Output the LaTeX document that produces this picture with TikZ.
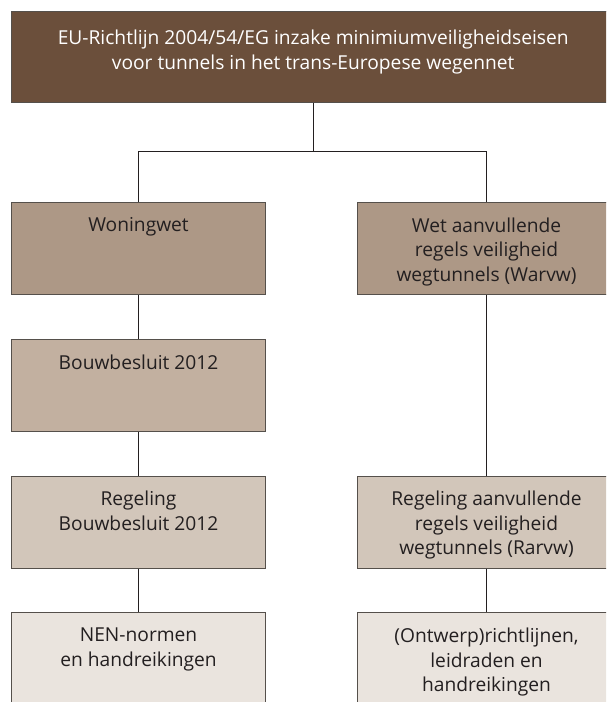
\documentclass[tikz,border=0pt]{standalone}
\usepackage{fontspec}
\setmainfont{Open Sans}
\usepackage{tikz}
\usetikzlibrary{positioning}

\definecolor{topfill}{HTML}{6B4F3B}
\definecolor{row1}{HTML}{AD9886}
\definecolor{row2}{HTML}{C2B0A0}
\definecolor{row3}{HTML}{D2C6BA}
\definecolor{row4}{HTML}{EAE4DE}
\definecolor{boxedge}{HTML}{55504B}
\definecolor{ink}{HTML}{231F20}

\begin{document}
\begin{tikzpicture}[x=0.75pt, y=-0.75pt,
    box/.style={draw=boxedge, line width=0.75pt, inner sep=0pt, anchor=north west, minimum height=69pt},
    boxtext/.style={align=center, inner sep=0pt, text=ink, font=\fontsize{14.4}{18.3}\selectfont},
    link/.style={draw=ink, line width=1pt}]
  \useasboundingbox (0,0) rectangle (606,702);
  \clip (0,0) rectangle (606,702);

  % top box
  \node[box, fill=topfill, minimum width=453pt, minimum height=68pt] (richtlijn) at (10.7,11) {};
  \node[boxtext, text=white, below=14.2pt of richtlijn.north] (richtlijn-text)
    {EU-Richtlijn 2004/54/EG inzake minimiumveiligheidseisen\\voor tunnels in het trans-Europese wegennet};

  % left column
  \foreach \r/\name/\txt in {
      1/woningwet/Woningwet,
      2/bouwbesluit/Bouwbesluit 2012,
      3/regeling/{Regeling\\Bouwbesluit 2012},
      4/nen/{NEN-normen\\en handreikingen}} {
    \node[box, fill=row\r, minimum width=191pt] (\name) at (10.7,{202+136.8*(\r-1)}) {};
    \node[boxtext, below=11.6pt of \name.north] (\name-text) {\txt};
  }

  % right column
  \foreach \r/\name/\txt in {
      1/warvw/{Wet aanvullende\\regels veiligheid\\wegtunnels (Warvw)},
      3/rarvw/{Regeling aanvullende\\regels veiligheid\\wegtunnels (Rarvw)},
      4/ontwerp/{(Ontwerp)richtlijnen,\\leidraden en\\handreikingen}} {
    \node[box, fill=row\r, minimum width=193.5pt] (\name) at (357,{202+136.8*(\r-1)}) {};
    \node[boxtext, below=11.6pt of \name.north] (\name-text) {\txt};
  }

  % connectors
  \coordinate[below=36.75pt of richtlijn.south] (split);
  \draw[link] (richtlijn.south) -- (split);
  \draw[link] (woningwet.north) |- (split) -| (warvw.north);
  \draw[link] (woningwet) -- (bouwbesluit);
  \draw[link] (bouwbesluit) -- (regeling);
  \draw[link] (regeling) -- (nen);
  \draw[link] (warvw) -- (rarvw);
  \draw[link] (rarvw) -- (ontwerp);
\end{tikzpicture}
\end{document}
